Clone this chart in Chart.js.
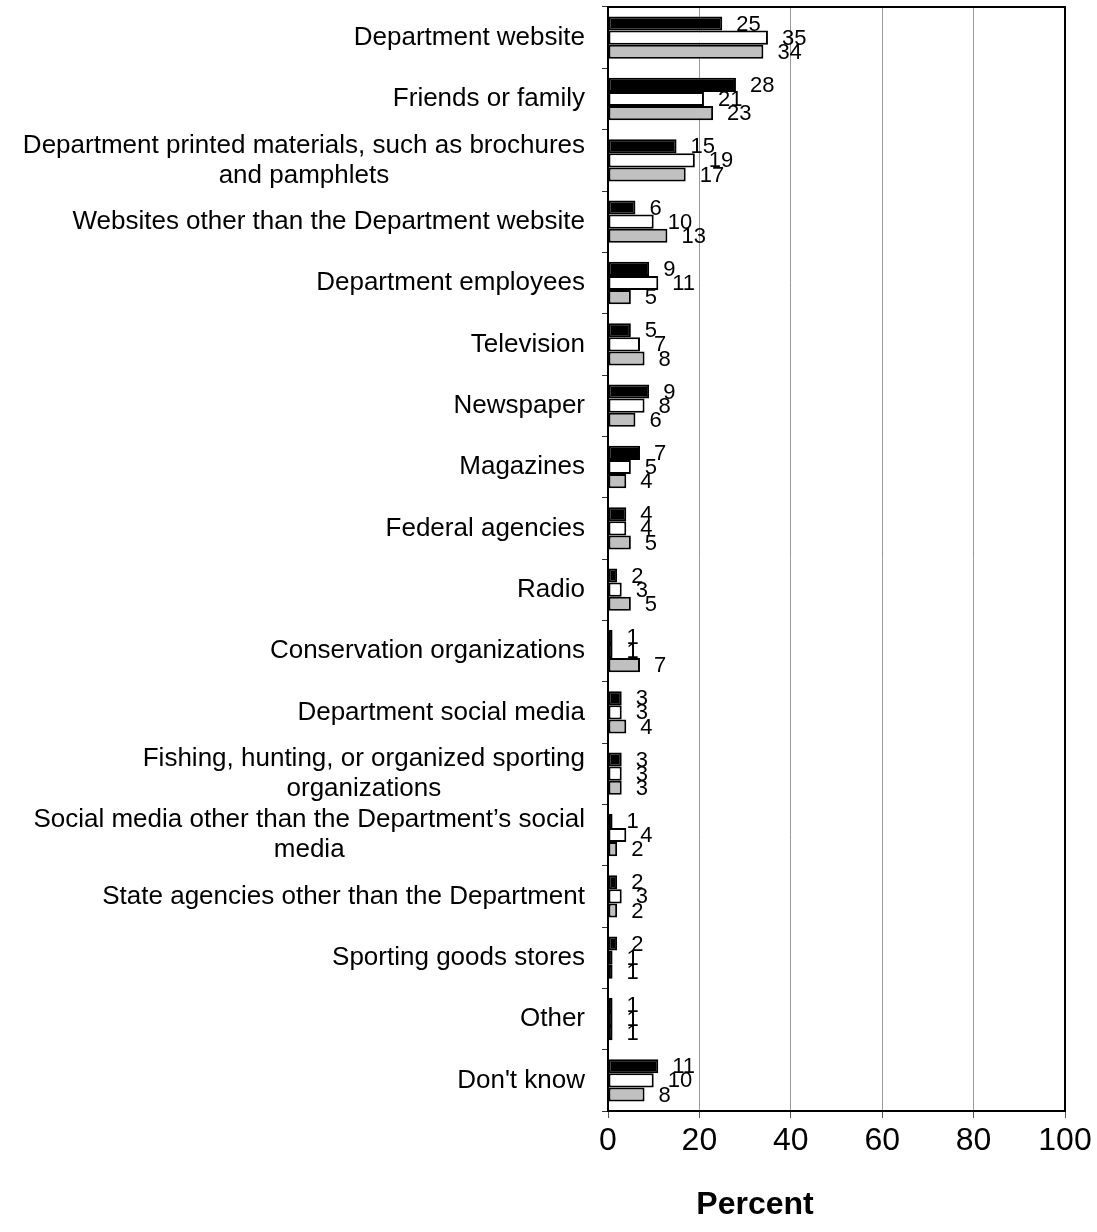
<!DOCTYPE html>
<html>
<head>
<meta charset="utf-8">
<script src="https://cdn.jsdelivr.net/npm/chart.js@4.4.0/dist/chart.umd.min.js"></script>
<style>
body { margin: 0; background: #fff; }
#wrap { width: 1097px; height: 1232px; }
</style>
</head>
<body>
<div id="wrap"><canvas id="myChart"></canvas></div>
<script>
// categories, top to bottom
const categories = [
    "Department website",
    "Friends or family",
    ["Department printed materials, such as brochures", "and pamphlets"],
    "Websites other than the Department website",
    "Department employees",
    "Television",
    "Newspaper",
    "Magazines",
    "Federal agencies",
    "Radio",
    "Conservation organizations",
    "Department social media",
    ["Fishing, hunting, or organized sporting", "organizations"],
    ["Social media other than the Department\u2019s social", "media"],
    "State agencies other than the Department",
    "Sporting goods stores",
    "Other",
    "Don't know"
];

// three series (black, white, gray)
const blackValues = [25, 28, 15, 6, 9, 5, 9, 7, 4, 2, 1, 3, 3, 1, 2, 2, 1, 11];
const whiteValues = [35, 21, 19, 10, 11, 7, 8, 5, 4, 3, 1, 3, 3, 4, 3, 1, 1, 10];
const grayValues  = [34, 23, 17, 13, 5, 8, 6, 4, 5, 5, 7, 4, 3, 2, 2, 1, 1, 8];

const xTicks = [0, 20, 40, 60, 80, 100];
const axisTitle = "Percent";

const FONT = '"Liberation Sans", Arial, sans-serif';

// value labels to the right of each bar
const barLabels = {
    id: "barLabels",
    afterDatasetsDraw(chart) {
        const ctx = chart.ctx;
        ctx.save();
        ctx.font = "22px " + FONT;
        ctx.fillStyle = "#000";
        ctx.textAlign = "left";
        ctx.textBaseline = "middle";
        chart.data.datasets.forEach((ds, i) => {
            chart.getDatasetMeta(i).data.forEach((bar, j) => {
                ctx.fillText(ds.data[j], bar.x + 14, bar.y + 1);
            });
        });
        ctx.restore();
    }
};

// category labels: right aligned, extra lines centred under the first
const catLabels = {
    id: "catLabels",
    afterDraw(chart) {
        const ctx = chart.ctx;
        const y = chart.scales.y;
        ctx.save();
        ctx.font = "26px " + FONT;
        ctx.fillStyle = "#000";
        ctx.textAlign = "center";
        ctx.textBaseline = "middle";
        const right = chart.chartArea.left - 23;
        categories.forEach((c, i) => {
            const lines = Array.isArray(c) ? c : [c];
            const w = Math.max(...lines.map(l => ctx.measureText(l).width));
            const cx = right - w / 2;
            const cy = y.getPixelForTick(i);
            const lh = 30;
            lines.forEach((l, k) => {
                ctx.fillText(l, cx, cy + (k - (lines.length - 1) / 2) * lh);
            });
        });
        ctx.restore();
    }
};

// box round the plot and the axis title
const frame = {
    id: "frame",
    afterDraw(chart) {
        const ctx = chart.ctx;
        const a = chart.chartArea;
        ctx.save();
        ctx.strokeStyle = "#000";
        ctx.lineWidth = 2;
        ctx.strokeRect(a.left, a.top, a.right - a.left, a.bottom - a.top);
        ctx.font = "bold 32px " + FONT;
        ctx.fillStyle = "#000";
        ctx.textAlign = "center";
        ctx.textBaseline = "middle";
        ctx.fillText(axisTitle, 755, 1205);
        ctx.restore();
    }
};

new Chart(document.getElementById("myChart"), {
    type: "bar",
    data: {
        labels: categories,
        datasets: [
            { label: "black", data: blackValues, backgroundColor: "#000000" },
            { label: "white", data: whiteValues, backgroundColor: "#ffffff" },
            { label: "gray", data: grayValues, backgroundColor: "#c0c0c0" }
        ].map(d => Object.assign(d, {
            borderColor: "#000",
            borderWidth: 2,
            borderSkipped: false,
            categoryPercentage: 0.69,
            barPercentage: 1.0
        }))
    },
    options: {
        indexAxis: "y",
        responsive: true,
        maintainAspectRatio: false,
        animation: false,
        layout: { padding: { top: 7, right: 32, bottom: 0, left: 0 } },
        plugins: {
            legend: { display: false },
            tooltip: { enabled: false }
        },
        scales: {
            x: {
                min: 0,
                max: 100,
                afterBuildTicks: scale => { scale.ticks = xTicks.map(v => ({ value: v })); },
                afterFit: scale => { scale.height = 121; },
                grid: { color: "#999", lineWidth: 1, tickLength: 7, tickColor: "#555" },
                border: { color: "#000", width: 2 },
                ticks: { color: "#000", font: { size: 32, family: FONT }, padding: 4 }
            },
            y: {
                afterFit: scale => { scale.width = 608; },
                grid: { drawOnChartArea: false, offset: true, tickLength: 6, color: "#333" },
                border: { color: "#000", width: 2 },
                ticks: { display: false }
            }
        }
    },
    plugins: [barLabels, catLabels, frame]
});
</script>
</body>
</html>
